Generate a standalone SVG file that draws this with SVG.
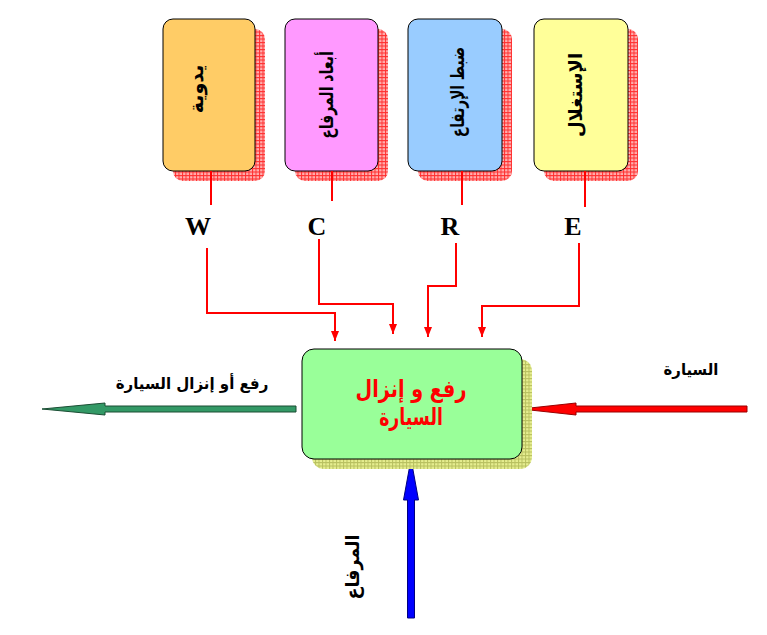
<svg xmlns="http://www.w3.org/2000/svg" width="767" height="635" viewBox="0 0 767 635">
<style>
.box{stroke:#000;stroke-width:1}
.vt{font-family:"DejaVu Sans",sans-serif;font-weight:bold;font-size:19px;fill:#000;text-anchor:middle;dominant-baseline:central}
.let{font-family:"Liberation Serif",serif;font-weight:bold;font-size:26px;fill:#000;text-anchor:middle}
.con{fill:none;stroke:#ff0000;stroke-width:2}
.lbl{font-family:"DejaVu Sans",sans-serif;font-weight:bold;font-size:16px;fill:#000;text-anchor:middle}
.main{font-family:"DejaVu Sans",sans-serif;font-weight:bold;font-size:24px;fill:#ff0000;text-anchor:middle}
</style>
<defs>
<pattern id="gridR" width="3.5" height="3.5" patternUnits="userSpaceOnUse">
<rect width="3.5" height="3.5" fill="#ffb0b0"/>
<path d="M0,0.5H3.5M0.5,0V3.5" stroke="#ff3030" stroke-width="1"/>
</pattern>
<pattern id="gridG" width="3.5" height="3.5" patternUnits="userSpaceOnUse">
<rect width="3.5" height="3.5" fill="#e6ee90"/>
<path d="M0,0.5H3.5M0.5,0V3.5" stroke="#b8c060" stroke-width="1"/>
</pattern>
<marker id="ah" markerWidth="8" markerHeight="10" refX="4" refY="10" orient="0" markerUnits="userSpaceOnUse">
<path d="M0,0L8,0L4,10z" fill="#ff0000"/>
</marker>
</defs>

<g id="node-manual">
<rect x="173" y="29" width="92" height="152" rx="10" fill="url(#gridR)"/>
<rect class="box" x="163" y="19" width="92" height="152" rx="10" fill="#ffcc66"/>
<text class="vt" transform="translate(196,89) rotate(-90)">يدوية</text>
</g>
<g id="node-dims">
<rect x="295" y="29" width="93" height="152" rx="10" fill="url(#gridR)"/>
<rect class="box" x="285" y="19" width="93" height="152" rx="10" fill="#ff99ff"/>
<text class="vt" transform="translate(326,95) rotate(-90) scale(0.74,1)">أبعاد المرفاع</text>
</g>
<g id="node-height">
<rect x="418" y="29" width="94" height="152" rx="10" fill="url(#gridR)"/>
<rect class="box" x="408" y="19" width="94" height="152" rx="10" fill="#99ccff"/>
<text class="vt" transform="translate(458,92) rotate(-90) scale(0.72,1)">ضبط الإرتفاع</text>
</g>
<g id="node-use">
<rect x="544" y="29" width="94" height="152" rx="10" fill="url(#gridR)"/>
<rect class="box" x="534" y="19" width="94" height="152" rx="10" fill="#ffff99"/>
<text class="vt" transform="translate(575,95) rotate(-90) scale(0.95,1)">الإستغلال</text>
</g>

<g id="labels">
<text class="let" x="198" y="235">W</text>
<text class="let" x="317" y="235">C</text>
<text class="let" x="450" y="235">R</text>
<text class="let" x="573" y="235">E</text>
</g>

<g id="connectors">
<path class="con" d="M211,171V205"/>
<path class="con" d="M332,171V201"/>
<path class="con" d="M462,171V205"/>
<path class="con" d="M585,171V207"/>
<path class="con" d="M207,248V313H335V341" marker-end="url(#ah)"/>
<path class="con" d="M319,239V304H393V334" marker-end="url(#ah)"/>
<path class="con" d="M456,243V286H428V337" marker-end="url(#ah)"/>
<path class="con" d="M579,243V306H482V337" marker-end="url(#ah)"/>
<polygon points="296,406 105,406 105,403 42,409 105,415 105,412 296,412" fill="#339966" stroke="#1a4d33" stroke-width="1"/>
<polygon points="747,406 576,406 576,403 521,409 576,415 576,412 747,412" fill="#ff0000" stroke="#990000" stroke-width="1"/>
<polygon points="407.5,618 407.5,500 403.5,500 411,459 418.5,500 414.5,500 414.5,618" fill="#0000ff" stroke="#000080" stroke-width="1"/>
</g>

<g id="node-main">
<rect x="312" y="359" width="220" height="110" rx="12" fill="url(#gridG)"/>
<rect class="box" x="302" y="349" width="220" height="110" rx="12" fill="#99ff99"/>
<text class="main" transform="translate(411,397) scale(0.8,1)">رفع و إنزال</text>
<text class="main" transform="translate(411,425) scale(0.72,1)">السيارة</text>
</g>

<g id="edge-labels">
<text class="lbl" transform="translate(192,389) scale(0.94,1)">رفع أو إنزال السيارة</text>
<text class="lbl" transform="translate(691,375) scale(0.93,1)">السيارة</text>
<text class="vt" transform="translate(352,567) rotate(-90) scale(0.92,1)">المرفاع</text>
</g>
</svg>
